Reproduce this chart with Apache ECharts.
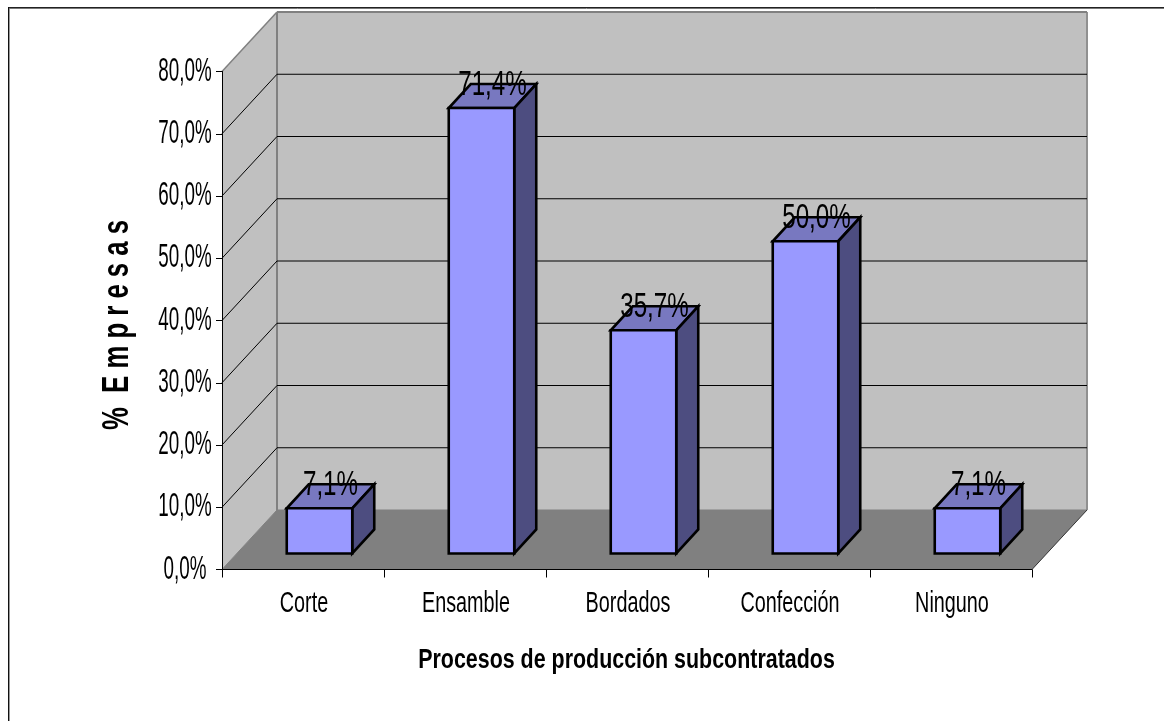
<!DOCTYPE html>
<html>
<head>
<meta charset="utf-8">
<script src="https://cdn.jsdelivr.net/npm/echarts@6/dist/echarts.min.js"></script>
<style>
  html, body { margin: 0; padding: 0; background: #fff; }
  #chart { width: 1164px; height: 721px; }
</style>
</head>
<body>
<div id="chart"></div>
<script>
const categories = ['Corte', 'Ensamble', 'Bordados', 'Confección', 'Ninguno'];
const shares = [7.1, 71.4, 35.7, 50.0, 7.1];
const shareLabels = ['7,1%', '71,4%', '35,7%', '50,0%', '7,1%'];
const tickValues = [0, 10, 20, 30, 40, 50, 60, 70, 80];
const tickLabels = ['0,0%', '10,0%', '20,0%', '30,0%', '40,0%', '50,0%', '60,0%', '70,0%', '80,0%'];
const xTitle = 'Procesos de producción subcontratados';
const yTitle = '%  E m p r e s a s';

// Oblique projection of the 3D box: depth of the room and of each column, in pixels.
const ROOM_DX = 55, ROOM_DY = -59.5;
const BAR_DX = 22, BAR_DY = -24;
const BAR_SHIFT_X = 16.5, BAR_SHIFT_Y = -16;
const BAR_WIDTH = 65.5;

const FONT = '"Liberation Sans"';
const WALL = '#C0C0C0', FLOOR = '#808080', EDGE = '#808080';
const FRONT = '#9999FF', TOP = '#7878C0', SIDE = '#4D4D80';
const OUTLINE = 2.6;

function poly(points, fill, stroke, lineWidth) {
  return { type: 'polygon', shape: { points }, style: { fill, stroke: stroke || 'none', lineWidth: lineWidth || 0, lineJoin: 'miter' } };
}
function line(x1, y1, x2, y2, stroke, lineWidth) {
  return { type: 'line', shape: { x1, y1, x2, y2 }, style: { stroke, lineWidth } };
}
function label(text, x, y, size, scaleX, weight) {
  return {
    type: 'text', x, y, scaleX,
    style: { text, fill: '#000', font: (weight || 'normal') + ' ' + size + 'px ' + FONT, align: 'center', verticalAlign: 'middle' }
  };
}

// Side wall, back wall, floor and the gridlines folded across both walls.
function renderRoom(params, api) {
  const box = params.coordSys;
  const left = box.x, right = box.x + box.width;
  const y0 = api.coord([0, 0])[1], yMax = api.coord([0, 80])[1];
  const bx = ROOM_DX, by = ROOM_DY;
  const children = [
    poly([[left, y0], [left + bx, y0 + by], [left + bx, yMax + by], [left, yMax]], WALL),
    poly([[left + bx, y0 + by], [right + bx, y0 + by], [right + bx, yMax + by], [left + bx, yMax + by]], WALL),
    poly([[left, y0], [right, y0], [right + bx, y0 + by], [left + bx, y0 + by]], FLOOR),
    line(left + bx, y0 + by, left + bx, yMax + by, EDGE, 2),
    line(right + bx, y0 + by, right + bx, yMax + by, '#909090', 2),
    line(left + bx, yMax + by, right + bx, yMax + by, EDGE, 2),
    line(left, yMax, left + bx, yMax + by, EDGE, 1.5),
    line(left + bx, y0 + by, right + bx, y0 + by, EDGE, 1),
    line(right, y0, right + bx, y0 + by, '#333', 1),
    line(left, y0, left + bx, y0 + by, EDGE, 1)
  ];
  tickValues.forEach(function (v) {
    if (v === 0 || v === 80) return;
    const y = api.coord([0, v])[1];
    children.push(line(left, y, left + bx, y + by, '#000', 1));
    children.push(line(left + bx, y + by, right + bx, y + by, '#000', 1));
  });
  return { type: 'group', children };
}

// One column: front, top and side faces with a heavy outline.
function renderBar(params, api) {
  const c = api.coord([api.value(0), api.value(1)]);
  const base = api.coord([api.value(0), 0]);
  const l = c[0] - BAR_WIDTH / 2 + BAR_SHIFT_X, r = l + BAR_WIDTH;
  const t = c[1] + BAR_SHIFT_Y - 1, b = base[1] + BAR_SHIFT_Y;
  const dx = BAR_DX, dy = BAR_DY;
  return {
    type: 'group',
    children: [
      poly([[l, t], [r, t], [r + dx, t + dy], [l + dx, t + dy]], TOP, '#000', OUTLINE),
      poly([[r, t], [r + dx, t + dy], [r + dx, b + dy], [r, b]], SIDE, '#000', OUTLINE),
      poly([[l, t], [r, t], [r, b], [l, b]], FRONT, '#000', OUTLINE)
    ]
  };
}

// Value text sitting over the back edge of each column's top.
function renderShareLabel(params, api) {
  const c = api.coord([api.value(0), api.value(1)]);
  return label(shareLabels[params.dataIndex], c[0] + BAR_SHIFT_X + BAR_DX / 2, c[1] + BAR_SHIFT_Y + BAR_DY, 35, 0.69);
}

// Tick text is narrower than any installed face, so it is drawn here with a horizontal squeeze.
function renderValueTick(params, api) {
  const c = api.coord([0, api.value(0)]);
  return label(tickLabels[params.dataIndex], params.coordSys.x - 37, c[1], 33, 0.57);
}
function renderCategoryTick(params, api) {
  const c = api.coord([api.value(0), 0]);
  return label(categories[params.dataIndex], c[0] + 1, c[1] + 34, 30, 0.66);
}

const chart = echarts.init(document.getElementById('chart'), null, { renderer: 'canvas' });
chart.setOption({
  animation: false,
  backgroundColor: '#fff',
  grid: { left: 222, right: 132, top: 71.5, bottom: 151.5 },
  xAxis: {
    type: 'category', data: categories, z: 6,
    axisLine: { lineStyle: { color: '#000', width: 1 } },
    axisTick: { show: true, length: 8, lineStyle: { color: '#000', width: 1 } },
    axisLabel: { show: false },
    splitLine: { show: false }
  },
  yAxis: {
    type: 'value', min: 0, max: 80, interval: 10, z: 6,
    axisLine: { show: true, lineStyle: { color: '#000', width: 1 } },
    axisTick: { show: true, length: 6, lineStyle: { color: '#000', width: 1 } },
    axisLabel: { show: false },
    splitLine: { show: false }
  },
  graphic: [
    { type: 'line', shape: { x1: 8, y1: 7.5, x2: 1164, y2: 7.5 }, style: { stroke: '#222', lineWidth: 1 } },
    { type: 'line', shape: { x1: 9, y1: 8.5, x2: 1164, y2: 8.5 }, style: { stroke: '#777', lineWidth: 1 } },
    { type: 'line', shape: { x1: 8.5, y1: 7, x2: 8.5, y2: 721 }, style: { stroke: '#111', lineWidth: 1 } },
    { type: 'line', shape: { x1: 9.5, y1: 9, x2: 9.5, y2: 721 }, style: { stroke: '#999', lineWidth: 1 } },
    { type: 'text', x: 626.5, y: 660, scaleX: 0.765, style: { text: xTitle, fill: '#000', font: 'bold 28px ' + FONT, align: 'center', verticalAlign: 'middle' } },
    { type: 'text', x: 118, y: 325, rotation: Math.PI / 2, scaleX: 0.695, style: { text: yTitle, fill: '#000', font: 'bold 37px ' + FONT, align: 'center', verticalAlign: 'middle' } }
  ],
  series: [
    { type: 'custom', name: 'room', z: 1, silent: true, renderItem: renderRoom, data: [0] },
    { type: 'custom', name: 'Empresas', z: 2, renderItem: renderBar, encode: { x: 0, y: 1 }, data: shares.map((v, i) => [i, v]) },
    { type: 'custom', name: 'shareText', z: 3, silent: true, renderItem: renderShareLabel, encode: { x: 0, y: 1 }, data: shares.map((v, i) => [i, v]) },
    { type: 'custom', name: 'valueTicks', z: 3, silent: true, renderItem: renderValueTick, encode: { y: 0 }, data: tickValues.map(v => [v]) },
    { type: 'custom', name: 'categoryTicks', z: 3, silent: true, renderItem: renderCategoryTick, encode: { x: 0 }, data: categories.map((c, i) => [i]) }
  ]
});
</script>
</body>
</html>
